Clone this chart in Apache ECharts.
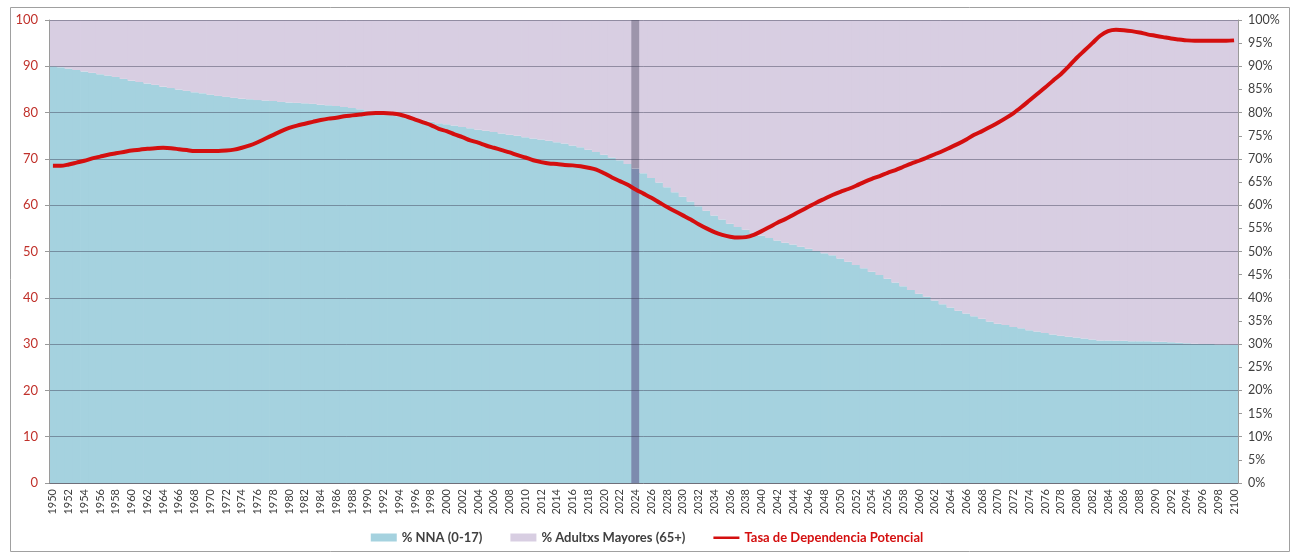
<!DOCTYPE html>
<html>
<head>
<meta charset="utf-8">
<script src="https://cdn.jsdelivr.net/npm/echarts@6/dist/echarts.min.js"></script>
<style>
html,body{margin:0;padding:0;background:#fff;}
#chart{width:1294px;height:555px;}
</style>
</head>
<body>
<div id="chart"></div>
<script>
// Years 1950..2100
const years = [];
for (let y = 1950; y <= 2100; y++) years.push(String(y));

// % NNA (0-17) share of dependants
const nna = [
90.0,89.8,89.5,89.2,88.9,88.6,88.3,88.0,87.7,87.3,
86.9,86.6,86.3,86.0,85.6,85.3,85.0,84.7,84.4,84.2,
83.9,83.6,83.4,83.2,83.0,82.9,82.7,82.6,82.5,82.3,
82.2,82.1,82.0,81.9,81.7,81.6,81.4,81.2,81.0,80.7,
80.4,80.1,79.8,79.5,79.2,78.9,78.6,78.3,78.0,77.7,
77.5,77.2,76.9,76.6,76.3,76.1,75.8,75.5,75.2,75.0,
74.7,74.4,74.2,73.9,73.6,73.3,72.9,72.5,72.0,71.5,
70.9,70.3,69.7,68.9,67.9,66.9,65.9,64.9,63.9,62.8,
61.8,60.8,59.8,58.8,57.8,56.9,56.0,55.3,54.7,54.0,
53.4,52.9,52.4,51.9,51.5,51.0,50.6,50.1,49.6,49.2,
48.5,47.8,47.1,46.4,45.6,44.9,44.1,43.3,42.5,41.7,
40.9,40.2,39.4,38.6,37.9,37.2,36.6,36.0,35.5,34.9,
34.4,34.1,33.7,33.4,33.0,32.7,32.4,32.1,31.8,31.6,
31.4,31.2,31.0,30.8,30.8,30.7,30.7,30.6,30.6,30.6,
30.5,30.5,30.4,30.3,30.2,30.1,30.0,30.0,29.9,29.9,
29.8
];

// % Adultxs Mayores (65+) share of dependants
const mayores = [
10.0,10.2,10.5,10.8,11.1,11.4,11.7,12.0,12.3,12.7,
13.1,13.4,13.7,14.0,14.4,14.7,15.0,15.3,15.6,15.8,
16.1,16.4,16.6,16.8,17.0,17.1,17.3,17.4,17.5,17.7,
17.8,17.9,18.0,18.1,18.3,18.4,18.6,18.8,19.0,19.3,
19.6,19.9,20.2,20.5,20.8,21.1,21.4,21.7,22.0,22.3,
22.5,22.8,23.1,23.4,23.7,23.9,24.2,24.5,24.8,25.0,
25.3,25.6,25.8,26.1,26.4,26.7,27.1,27.5,28.0,28.5,
29.1,29.7,30.3,31.1,32.1,33.1,34.1,35.1,36.1,37.2,
38.2,39.2,40.2,41.2,42.2,43.1,44.0,44.7,45.3,46.0,
46.6,47.1,47.6,48.1,48.5,49.0,49.4,49.9,50.4,50.8,
51.5,52.2,52.9,53.6,54.4,55.1,55.9,56.7,57.5,58.3,
59.1,59.8,60.6,61.4,62.1,62.8,63.4,64.0,64.5,65.1,
65.6,65.9,66.3,66.6,67.0,67.3,67.6,67.9,68.2,68.4,
68.6,68.8,69.0,69.2,69.2,69.3,69.3,69.4,69.4,69.4,
69.5,69.5,69.6,69.7,69.8,69.9,70.0,70.0,70.1,70.1,
70.2
];

// Tasa de Dependencia Potencial (%)
const tasa = [
68.5,68.5,68.8,69.2,69.6,70.1,70.5,70.9,71.2,71.5,
71.8,72.0,72.2,72.3,72.4,72.3,72.1,71.9,71.7,71.7,
71.7,71.7,71.8,72.0,72.4,72.9,73.6,74.4,75.2,76.0,
76.7,77.2,77.6,78.0,78.4,78.7,78.9,79.2,79.4,79.6,
79.8,79.9,79.9,79.8,79.6,79.1,78.5,77.9,77.3,76.5,
76.0,75.3,74.7,74.0,73.5,72.9,72.4,71.9,71.4,70.8,
70.3,69.7,69.3,69.0,68.9,68.7,68.6,68.4,68.1,67.7,
66.9,66.0,65.2,64.4,63.4,62.5,61.6,60.6,59.6,58.7,
57.8,56.9,55.9,55.0,54.2,53.6,53.2,53.0,53.1,53.6,
54.4,55.3,56.2,57.0,57.9,58.8,59.7,60.6,61.4,62.2,
62.9,63.5,64.2,65.0,65.7,66.3,67.0,67.6,68.3,69.0,
69.6,70.3,71.0,71.7,72.5,73.3,74.2,75.2,76.0,76.9,
77.8,78.8,79.9,81.2,82.6,84.0,85.4,86.9,88.3,90.0,
91.8,93.4,95.0,96.6,97.6,97.9,97.8,97.6,97.3,96.9,
96.6,96.3,96.0,95.8,95.6,95.5,95.5,95.5,95.5,95.5,
95.6
];

const highlightYear = '2024';
const leftTicks = { min: 0, max: 100, interval: 10 };
const rightTicks = { min: 0, max: 100, interval: 5 };

const C_NNA = '#a5d2df', C_MAY = '#d8cee2';
const C_NNA_H = '#7d8bae', C_MAY_H = '#9d95ab';
const RED = '#d40f0f';
const FONT = 'Lato, "Liberation Sans", sans-serif';
const LINE_ICON = 'path://M0,0 L0.01,0 L0.01,0.01 Z M0,3 H26 V5.4 H0 Z M0,8 L0.01,8 L0.01,7.99 Z';

function barData(vals, hi) {
  return vals.map((v, i) => years[i] === highlightYear
    ? { value: v, itemStyle: { color: hi } }
    : v);
}

const chart = echarts.init(document.getElementById('chart'));
chart.setOption({
  animation: false,
  textStyle: { fontFamily: FONT },
  grid: { left: 49, right: 56, top: 20, bottom: 72, containLabel: false },
  graphic: [{
    type: 'rect', left: 8, top: 5, z: 100, silent: true,
    shape: { width: 1279, height: 544 },
    style: { fill: 'none', stroke: '#a0a0a0', lineWidth: 1 }
  }],
  legend: {
    bottom: 6, left: 'center', itemGap: 28, itemWidth: 26, itemHeight: 8,
    textStyle: { fontFamily: FONT, fontSize: 13, fontWeight: 'bold', color: '#404040' },
    data: [
      { name: '% NNA (0-17)', icon: 'rect' },
      { name: '% Adultxs Mayores (65+)', icon: 'rect' },
      { name: 'Tasa de Dependencia Potencial', icon: LINE_ICON, itemStyle: { color: RED }, textStyle: { color: RED } }
    ]
  },
  xAxis: {
    type: 'category', data: years, boundaryGap: true,
    axisLine: { lineStyle: { color: '#9a9a9a' } },
    axisTick: { interval: 0, length: 4, lineStyle: { color: '#9a9a9a' } },
    axisLabel: { interval: 1, rotate: 90, fontSize: 11, color: '#404040', margin: 6, fontFamily: FONT }
  },
  yAxis: [{
    type: 'value', min: leftTicks.min, max: leftTicks.max, interval: leftTicks.interval, z: 5,
    axisLine: { show: true, lineStyle: { color: '#9a9a9a' } },
    axisTick: { show: true, length: 4, lineStyle: { color: '#9a9a9a' } },
    axisLabel: { color: '#c0312b', fontSize: 13, margin: 11, fontFamily: FONT },
    splitLine: { show: true, lineStyle: { color: 'rgba(60,60,85,0.45)', width: 1 } }
  }, {
    type: 'value', min: rightTicks.min, max: rightTicks.max, interval: rightTicks.interval, position: 'right',
    axisLine: { show: true, lineStyle: { color: '#9a9a9a' } },
    axisTick: { show: true, length: 4, lineStyle: { color: '#9a9a9a' } },
    axisLabel: { color: '#404040', fontSize: 12.5, margin: 10, formatter: '{value}%', fontFamily: FONT },
    splitLine: { show: false }
  }],
  series: [{
    name: '% NNA (0-17)', type: 'bar', stack: 'dep', barWidth: 8.6, z: 2,
    itemStyle: { color: C_NNA },
    data: barData(nna, C_NNA_H)
  }, {
    name: '% Adultxs Mayores (65+)', type: 'bar', stack: 'dep', barWidth: 8.6, z: 2,
    itemStyle: { color: C_MAY },
    data: barData(mayores, C_MAY_H)
  }, {
    name: 'Tasa de Dependencia Potencial', type: 'line', yAxisIndex: 1, z: 10,
    smooth: 0.3, symbol: 'none',
    lineStyle: { color: RED, width: 4 },
    itemStyle: { color: RED },
    data: tasa
  }]
});
</script>
</body>
</html>
